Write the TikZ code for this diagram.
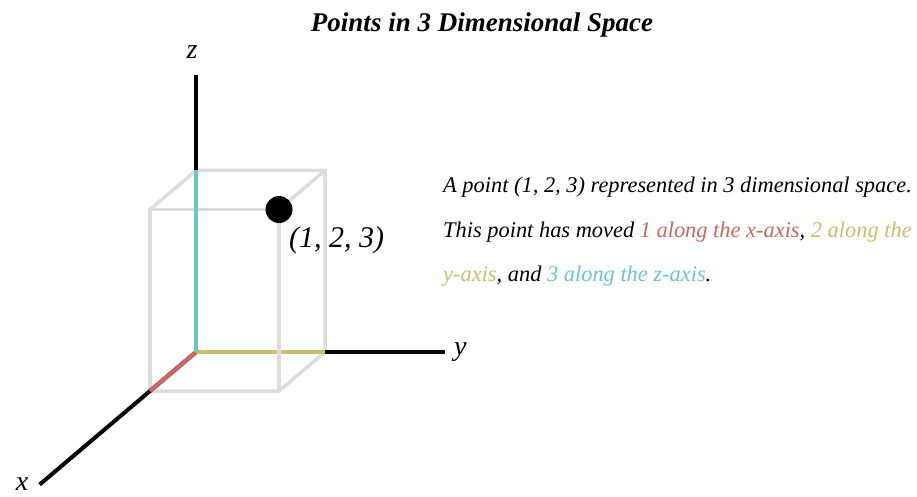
\documentclass[tikz,border=0pt]{standalone}
\usepackage{fontspec}
\setmainfont{Liberation Serif}
\usetikzlibrary{positioning}

\definecolor{xred}{HTML}{CC6666}
\definecolor{yolive}{HTML}{C8BE6E}
\definecolor{zcyan}{HTML}{6CC4CC}
\definecolor{boxgray}{HTML}{DCDCDC}

\begin{document}
\begin{tikzpicture}[x=1pt, y=1pt,
		axis/.style = {line width=4pt},
		edge/.style = {boxgray, line width=3.5pt},
		part/.style = {line width=4.5pt},
		axlabel/.style = {font=\fontsize{28}{32}\selectfont\itshape, inner sep=1pt},
		note/.style = {anchor=base west, inner sep=0pt, font=\fontsize{22.4}{26}\selectfont\itshape}]
	\useasboundingbox (0,0) rectangle (917,496);
	\node (title) [anchor=base, font=\fontsize{27}{32}\selectfont\bfseries\itshape] at (482,464) {Points in 3 Dimensional Space};

	\begin{scope}[shift={(196,144)}, x={(-46pt,-39pt)}, y={(64.5pt,0pt)}, z={(0pt,60.5pt)}]
		\coordinate (O) at (0,0,0);
		\coordinate (Xend) at (3.4,0,0);
		\coordinate (Yend) at (0,3.86,0);
		\coordinate (Zend) at (0,0,4.58);
		% corners of the box
		\coordinate (A) at (1,0,0);
		\coordinate (B) at (1,2,0);
		\coordinate (C) at (0,2,0);
		\coordinate (D) at (0,0,3);
		\coordinate (E) at (1,0,3);
		\coordinate (F) at (0,2,3);
		\coordinate (P) at (1,2,3);
	\end{scope}

	\draw[edge] (A) -- (E) -- (P);
	\draw[edge] (A) -- (B) -- (C) -- (F) -- (D) -- (E);
	\draw[edge] (P) -- (F);

	\draw[axis] (O) -- (Xend);
	\draw[axis] (O) -- (Yend);
	\draw[axis] (O) -- (Zend);

	\draw[part, xred] (O) -- (A);
	\draw[part, yolive] (O) -- (C);
	\draw[part, zcyan] (O) -- (D);
	\draw[edge] (P) -- (B);

	\node (xl) [axlabel, left=10pt of Xend, yshift=1pt] {x};
	\node (yl) [axlabel, right=8pt of Yend] {y};
	\node (zl) [axlabel, above=15pt of Zend, xshift=-4pt] {z};

	\node (pt) [circle, fill=black, inner sep=0pt, minimum size=27pt] at (P) {};
	\node (ptlabel) [axlabel, font=\fontsize{30}{34}\selectfont\itshape, anchor=north west, xshift=9pt, yshift=-16pt] at (P) {(1, 2, 3)};

	\node (line1) [note] at (443,304) {A point (1, 2, 3) represented in 3 dimensional space.};
	\node (line2) [note] at (443,259) {This point has moved \textcolor{xred}{1 along the x-axis}, \textcolor{yolive}{2 along the}};
	\node (line3) [note] at (443,215) {\textcolor{yolive}{y-axis}, and \textcolor{zcyan}{3 along the z-axis}.};
\end{tikzpicture}
\end{document}
